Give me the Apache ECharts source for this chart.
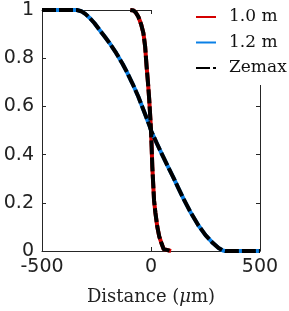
<!DOCTYPE html>
<html>
<head>
<meta charset="utf-8">
<script src="https://cdn.jsdelivr.net/npm/echarts@6/dist/echarts.min.js"></script>
<style>html,body{margin:0;padding:0;background:#fff;}#c{width:289px;height:311px;}</style>
</head>
<body>
<div id="c"></div>
<script>
// 1.0 m curve (distance in µm, normalized value)
var dist1 = [-95, -80, -70, -58, -45, -35, -27, -20, -14, -8, -3, 0, 3, 6, 10, 14, 20, 29, 38, 49, 58, 66, 92];
var val1  = [1, 0.998, 0.99, 0.972, 0.94, 0.905, 0.85, 0.764, 0.70, 0.627, 0.55, 0.5, 0.43, 0.35, 0.28, 0.21, 0.16, 0.10, 0.06, 0.03, 0.008, 0, 0];
// 1.2 m curve
var dist2 = [-500, -340, -320, -300, -280, -260, -234, -210, -188, -160, -130, -111, -85, -58, -30, -5, 0, 26, 50, 75, 100, 125, 150, 180, 217, 250, 284, 310, 330, 340, 500];
var val2  = [1, 1, 0.995, 0.983, 0.966, 0.946, 0.915, 0.887, 0.860, 0.822, 0.776, 0.743, 0.695, 0.64, 0.575, 0.515, 0.5, 0.448, 0.402, 0.355, 0.31, 0.262, 0.215, 0.163, 0.107, 0.066, 0.033, 0.012, 0.002, 0, 0];
var xTicks = [-500, 0, 500];
var yTicks = [0, 0.2, 0.4, 0.6, 0.8, 1];

function pairs(xs, ys) { return xs.map(function (x, i) { return [x, ys[i]]; }); }

var chart = echarts.init(document.getElementById('c'), null, {renderer: 'canvas'});
var tickFont = {fontFamily: 'DejaVu Sans', fontSize: 19, color: '#222'};
var axisCommon = {
  type: 'value',
  axisLine: {show: true, onZero: false, lineStyle: {color: '#262626', width: 1}},
  axisTick: {show: true, inside: true, length: 4, lineStyle: {color: '#262626'}},
  splitLine: {show: false}
};
function lineSeries(name, xs, ys, color, dash) {
  return {name: name, type: 'line', data: pairs(xs, ys), showSymbol: false, symbol: 'none', clip: false,
    color: color, lineStyle: {color: color, width: 4, type: dash || 'solid', join: 'round'}};
}
chart.setOption({
  animation: false,
  backgroundColor: '#fff',
  grid: {left: 42, right: 29, top: 10, bottom: 60},
  legend: {
    orient: 'vertical', left: 152, top: 0,
    padding: [7, 2, 7, 43],
    backgroundColor: '#fff',
    itemWidth: 20, itemHeight: 4, itemGap: 5.5,
    itemStyle: {opacity: 0},
    textStyle: {fontFamily: 'DejaVu Serif', fontSize: 17, color: '#111', lineHeight: 20, padding: [0, 0, 0, 8]},
    data: ['1.0 m', '1.2 m', 'Zemax']
  },
  xAxis: [
    Object.assign({}, axisCommon, {
      position: 'bottom', min: -500, max: 500, interval: 500,
      axisLabel: Object.assign({margin: 7}, tickFont),
      name: '{a|Distance (}{b|μ}{a|m)}', nameLocation: 'middle', nameGap: 37,
      nameTextStyle: {rich: {
        a: {fontFamily: 'DejaVu Serif', fontSize: 18, color: '#222'},
        b: {fontFamily: 'DejaVu Serif', fontStyle: 'italic', fontSize: 18, color: '#222'}
      }}
    }),
    Object.assign({}, axisCommon, {
      position: 'top', min: -500, max: 500, interval: 500, axisLabel: {show: false}
    })
  ],
  yAxis: [
    Object.assign({}, axisCommon, {
      position: 'left', min: 0, max: 1, interval: 0.2,
      axisLabel: Object.assign({margin: 8}, tickFont)
    }),
    Object.assign({}, axisCommon, {
      position: 'right', min: 0, max: 1, interval: 0.2, axisLabel: {show: false}
    })
  ],
  series: [
    lineSeries('1.0 m', dist1, val1, '#d40000'),
    lineSeries('1.2 m', dist2, val2, '#0a80e6'),
    lineSeries('Zemax', dist1, val1, '#000', [14, 3]),
    lineSeries('Zemax', dist2, val2, '#000', [14, 3])
  ]
});
</script>
</body>
</html>
